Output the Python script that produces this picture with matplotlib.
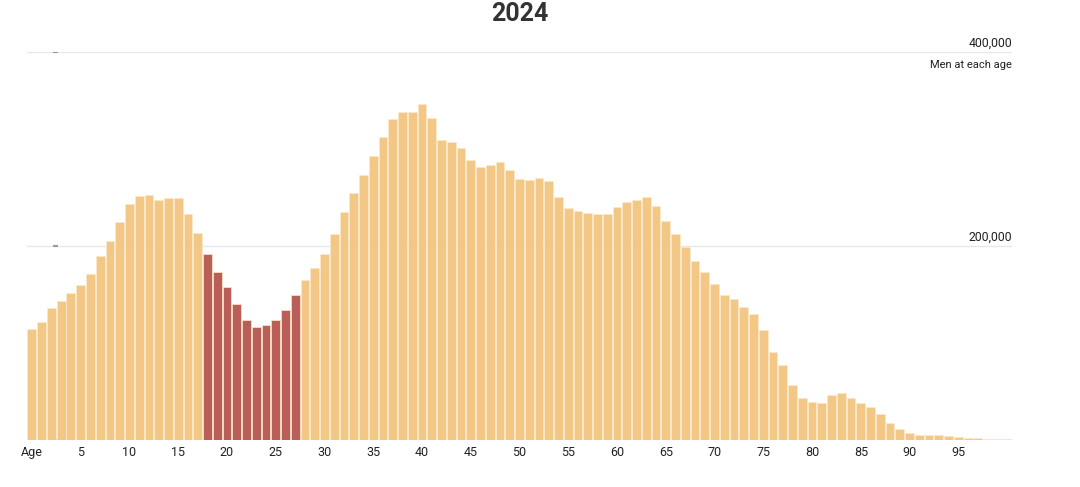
import matplotlib
matplotlib.use("Agg")
import matplotlib.pyplot as plt
import numpy as np

ages = list(range(0, 101))
men = [
    114000, 122000, 136000, 143000, 152000, 160000, 171000, 190000, 205000, 225000,
    243000, 252000, 253000, 247000, 249000, 249500, 233000, 213000, 192000, 173000,
    158000, 140000, 124000, 117000, 118500, 124000, 134000, 149000, 165000, 177000,
    192000, 212000, 235000, 255000, 273000, 293000, 312000, 331000, 338000, 338000,
    346000, 332000, 309000, 307000, 301000, 289000, 281000, 283000, 287000, 278000,
    269000, 268000, 270000, 267000, 251000, 239000, 236000, 234000, 233000, 233000,
    240500, 245000, 247000, 251000, 241000, 226000, 212000, 199000, 184500, 173000,
    160500, 149000, 145000, 137000, 130000, 113000, 91000, 77000, 57000, 43000,
    39500, 38500, 46000, 48000, 43000, 38500, 34000, 26500, 18000, 11300,
    7200, 5500, 5500, 5500, 4100, 2800, 2100, 1700, 1200, 1000, 900,
]
highlight_ages = list(range(18, 28))
xtick_ages = [0, 5, 10, 15, 20, 25, 30, 35, 40, 45, 50, 55, 60, 65, 70, 75, 80, 85, 90, 95]
xtick_labels = ["Age"] + [str(a) for a in xtick_ages[1:]]
yticks = [0, 200000, 400000]
title = "2024"
y_label = "Men at each age"

orange = "#F3C886"
red = "#BA5F58"
colors = [red if a in highlight_ages else orange for a in ages]

plt.rcParams['font.family'] = ['Roboto', 'DejaVu Sans']

fig = plt.figure(figsize=(10.8, 4.87), dpi=100)
ax = fig.add_axes([27 / 1080, 1 - 440 / 487, 985 / 1080, 388 / 487])

for y in yticks:
    ax.axhline(y, color="#e8e8e8", lw=1.0, zorder=0)
ax.hlines(yticks, 0.026, 0.031, transform=ax.get_yaxis_transform(),
          color="#999999", lw=1.5, zorder=1)

ax.bar(ages, men, width=0.9, color=colors, edgecolor="#fbe9cc", linewidth=0.5, zorder=2)

ax.set_xlim(-0.5, 100.5)
ax.set_ylim(0, 400000)
for s in ax.spines.values():
    s.set_visible(False)
ax.set_yticks([])
ax.set_xticks(xtick_ages)
ax.set_xticklabels(xtick_labels, fontsize=9, color="#222222")
ax.tick_params(axis="x", length=0, pad=4)

ax.text(1.0, 402000, f"{yticks[2]:,}", transform=ax.get_yaxis_transform(),
        ha="right", va="bottom", fontsize=8.8, color="#222222")
ax.text(1.0, 202000, f"{yticks[1]:,}", transform=ax.get_yaxis_transform(),
        ha="right", va="bottom", fontsize=8.8, color="#222222")
ax.text(1.0, 392000, y_label, transform=ax.get_yaxis_transform(),
        ha="right", va="top", fontsize=8, color="#222222")

fig.text((27 + 1012) / 2 / 1080, 1 - 14 / 487, title, ha="center", va="center",
         fontsize=18, fontweight="bold", color="#333333")

fig.savefig("out.png", dpi=100)
